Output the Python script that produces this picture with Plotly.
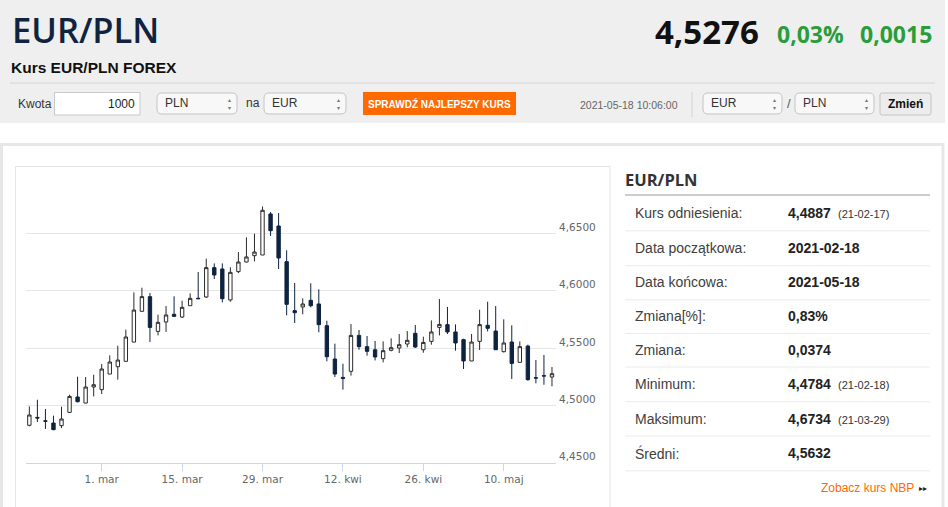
import plotly.graph_objects as go

W, H = 948, 507

# trading days shown on the chart (weekdays only)
dates = [
    "2021-02-16", "2021-02-17", "2021-02-18", "2021-02-19",
    "2021-02-22", "2021-02-23", "2021-02-24", "2021-02-25", "2021-02-26",
    "2021-03-01", "2021-03-02", "2021-03-03", "2021-03-04", "2021-03-05",
    "2021-03-08", "2021-03-09", "2021-03-10", "2021-03-11", "2021-03-12",
    "2021-03-15", "2021-03-16", "2021-03-17", "2021-03-18", "2021-03-19",
    "2021-03-22", "2021-03-23", "2021-03-24", "2021-03-25", "2021-03-26",
    "2021-03-29", "2021-03-30", "2021-03-31", "2021-04-01", "2021-04-02",
    "2021-04-05", "2021-04-06", "2021-04-07", "2021-04-08", "2021-04-09",
    "2021-04-12", "2021-04-13", "2021-04-14", "2021-04-15", "2021-04-16",
    "2021-04-19", "2021-04-20", "2021-04-21", "2021-04-22", "2021-04-23",
    "2021-04-26", "2021-04-27", "2021-04-28", "2021-04-29", "2021-04-30",
    "2021-05-03", "2021-05-04", "2021-05-05", "2021-05-06", "2021-05-07",
    "2021-05-10", "2021-05-11", "2021-05-12", "2021-05-13", "2021-05-14",
    "2021-05-17", "2021-05-18",
]
open_ = [
    4.4826, 4.4895, 4.4865, 4.4846, 4.4823, 4.4939, 4.5073, 4.5020, 4.5160,
    4.5137, 4.5273, 4.5337, 4.5384, 4.5552, 4.5820, 4.5948, 4.5645, 4.5727,
    4.5794, 4.5770, 4.5869, 4.5934, 4.5945, 4.6201, 4.6189, 4.5919, 4.6166,
    4.6250, 4.6305, 4.6311, 4.6669, 4.6564, 4.6253, 4.5826, 4.5858, 4.5916,
    4.5884, 4.5695, 4.5404, 4.5244, 4.5297, 4.5610, 4.5512, 4.5485, 4.5407,
    4.5480, 4.5500, 4.5535, 4.5628, 4.5485, 4.5558, 4.5680, 4.5704, 4.5640,
    4.5573, 4.5387, 4.5558, 4.5698, 4.5648, 4.5468, 4.5552, 4.5375, 4.5517,
    4.5241, 4.5259, 4.5247,
]
high = [
    4.4991, 4.5049, 4.4968, 4.4910, 4.4988, 4.5093, 4.5250, 4.5247, 4.5267,
    4.5360, 4.5436, 4.5520, 4.5660, 4.5985, 4.6026, 4.5980, 4.5791, 4.5866,
    4.5951, 4.5913, 4.5977, 4.6163, 4.6279, 4.6238, 4.6238, 4.6204, 4.6337,
    4.6465, 4.6497, 4.6734, 4.6686, 4.6677, 4.6352, 4.6067, 4.5933, 4.6064,
    4.6012, 4.5738, 4.5538, 4.5363, 4.5709, 4.5657, 4.5605, 4.5561, 4.5558,
    4.5584, 4.5622, 4.5648, 4.5701, 4.5599, 4.5741, 4.5927, 4.5858, 4.5706,
    4.5581, 4.5622, 4.5834, 4.5904, 4.5866, 4.5750, 4.5698, 4.5558, 4.5529,
    4.5395, 4.5439, 4.5334,
]
low = [
    4.4817, 4.4855, 4.4794, 4.4784, 4.4802, 4.4933, 4.5026, 4.5020, 4.5078,
    4.5099, 4.5273, 4.5224, 4.5384, 4.5552, 4.5820, 4.5552, 4.5610, 4.5640,
    4.5773, 4.5762, 4.5869, 4.5927, 4.5936, 4.6102, 4.5898, 4.5904, 4.6154,
    4.6247, 4.6256, 4.6311, 4.6477, 4.6189, 4.5785, 4.5718, 4.5794, 4.5855,
    4.5637, 4.5384, 4.5247, 4.5137, 4.5259, 4.5485, 4.5433, 4.5392, 4.5375,
    4.5471, 4.5456, 4.5506, 4.5500, 4.5459, 4.5529, 4.5610, 4.5622, 4.5477,
    4.5317, 4.5387, 4.5483, 4.5645, 4.5485, 4.5462, 4.5230, 4.5375, 4.5215,
    4.5192, 4.5180, 4.5166,
]
close = [
    4.4916, 4.4890, 4.4862, 4.4788, 4.4881, 4.5078, 4.5032, 4.5160, 4.5180,
    4.5317, 4.5378, 4.5395, 4.5596, 4.5831, 4.5948, 4.5680, 4.5724, 4.5788,
    4.5776, 4.5855, 4.5933, 4.5930, 4.6201, 4.6137, 4.5930, 4.6160, 4.6250,
    4.6294, 4.6337, 4.6701, 4.6523, 4.6285, 4.5881, 4.5808, 4.5884, 4.5869,
    4.5704, 4.5424, 4.5273, 4.5235, 4.5610, 4.5512, 4.5471, 4.5422, 4.5477,
    4.5503, 4.5529, 4.5567, 4.5509, 4.5549, 4.5640, 4.5706, 4.5640, 4.5544,
    4.5387, 4.5552, 4.5704, 4.5672, 4.5485, 4.5544, 4.5366, 4.5512, 4.5224,
    4.5238, 4.5256, 4.5276,
]

x_tick_vals = ["2021-03-01", "2021-03-15", "2021-03-29", "2021-04-12", "2021-04-26", "2021-05-10"]
x_tick_text = ["1. mar", "15. mar", "29. mar", "12. kwi", "26. kwi", "10. maj"]
y_tick_vals = [4.45, 4.50, 4.55, 4.60, 4.65, 4.70]
y_tick_text = ["4,4500", "4,5000", "4,5500", "4,6000", "4,6500", ""]

stats_labels = ["Kurs odniesienia:", "Data początkowa:", "Data końcowa:", "Zmiana[%]:",
                "Zmiana:", "Minimum:", "Maksimum:", "Średni:"]
stats_values = ["4,4887", "2021-02-18", "2021-05-18", "0,83%", "0,0374", "4,4784", "4,6734", "4,5632"]
stats_dates = ["(21-02-17)", "", "", "", "", "(21-02-18)", "(21-03-29)", ""]

NAVY = "#0e2340"
ARIAL = "Liberation Sans, Arial, sans-serif"
OPEN = "Open Sans, sans-serif"
ORANGE = "#ff6a00"
GREEN = "#2a9d3a"


def px(x):
    return x / W


def py(y):
    return 1 - y / H


shapes = []
annotations = []


def rect(x0, y0, x1, y1, fill, line="rgba(0,0,0,0)", width=0):
    shapes.append(dict(type="rect", xref="paper", yref="paper", layer="below",
                       x0=px(x0), x1=px(x1), y0=py(y0), y1=py(y1),
                       fillcolor=fill, line=dict(color=line, width=width)))


def rrect(x0, y0, x1, y1, r, fill, line):
    pts = (f"M{px(x0 + r)},{py(y0)} L{px(x1 - r)},{py(y0)} Q{px(x1)},{py(y0)} {px(x1)},{py(y0 + r)} "
           f"L{px(x1)},{py(y1 - r)} Q{px(x1)},{py(y1)} {px(x1 - r)},{py(y1)} "
           f"L{px(x0 + r)},{py(y1)} Q{px(x0)},{py(y1)} {px(x0)},{py(y1 - r)} "
           f"L{px(x0)},{py(y0 + r)} Q{px(x0)},{py(y0)} {px(x0 + r)},{py(y0)} Z")
    shapes.append(dict(type="path", xref="paper", yref="paper", layer="below", path=pts,
                       fillcolor=fill, line=dict(color=line, width=1)))


def hline(x0, x1, y, color, width=1):
    shapes.append(dict(type="line", xref="paper", yref="paper", layer="below",
                       x0=px(x0), x1=px(x1), y0=py(y), y1=py(y), line=dict(color=color, width=width)))


def vline(x, y0, y1, color, width=1):
    shapes.append(dict(type="line", xref="paper", yref="paper", layer="below",
                       x0=px(x), x1=px(x), y0=py(y0), y1=py(y1), line=dict(color=color, width=width)))


def text(x, y, s, size, color="#333333", anchor="left", family=ARIAL, weight="normal"):
    annotations.append(dict(x=px(x), y=py(y), xref="paper", yref="paper", text=s, showarrow=False,
                            xanchor=anchor, yanchor="middle",
                            font=dict(size=size, color=color, family=family, weight=weight)))


def select(x0, x1, label):
    rrect(x0, 93, x1, 114, 5, "#f8f8f8", "#c4c4c4")
    text(x0 + 6, 103, label, 12)
    text(x1 - 8, 103.5, "▴<br>▾", 6, "#777777", "center")


# header band
rect(0, 0, 945, 123, "#efefef")
hline(10, 935, 83, "#d6d6d6")
text(10, 29.5, "EUR/PLN", 34.5, "#10233f", family=OPEN, weight=600)
text(9, 67, "<b>Kurs EUR/PLN FOREX</b>", 15.5, "#111111")
text(761, 32, "<b>4,5276</b>", 33, "#111111", "right", family=OPEN)
text(846, 34, "<b>0,03%</b>", 23, GREEN, "right", family=OPEN)
text(934, 34, "<b>0,0015</b>", 23, GREEN, "right", family=OPEN)

# converter row
text(16, 104, "Kwota", 12)
rect(54.5, 92.5, 140, 115, "white", "#c8c8c8", 1)
text(137, 104, "1000", 12, "#222222", "right")
select(157, 237, "PLN")
text(244, 103, "na", 12)
select(264, 346, "EUR")
rect(363, 92, 516, 115, ORANGE)
text(439.5, 103.5, "<b>SPRAWDŹ NAJLEPSZY KURS</b>", 10, "white", "center")
text(680, 105, "2021-05-18 10:06:00", 10.5, "#666666", "right")
vline(692, 92, 117, "#d4d4d4")
select(703, 782, "EUR")
text(788.5, 104, "/", 13, "#555555", "center")
select(795, 874, "PLN")
rrect(880, 93, 931, 115, 2, "#ececec", "#c4c4c4")
text(905.5, 104, "<b>Zmień</b>", 12, "#111111", "center")

# page containers
rect(1.5, 144.5, 943, 530, "white", "#e7e7e7", 3)
rect(15.5, 166.5, 610, 520, "white", "#e6e6e6", 1)

# right side statistics panel
text(623, 179, "<b>EUR/PLN</b>", 16.5, "#333333", family=OPEN)
hline(625, 930, 195, "#9a9a9a")
row_y = [213.3, 248.3, 282.3, 316.0, 349.5, 384.3, 418.5, 453.3]
for i, yy in enumerate(row_y):
    text(633, yy, stats_labels[i], 14, "#404040")
    text(786, yy, "<b>" + stats_values[i] + "</b>", 14, "#222222")
    if stats_dates[i]:
        text(836, yy + 1, stats_dates[i], 11, "#333333")
    hline(625, 930, yy + 17.5, "#ececec")
text(916, 487.5, "Zobacz kurs NBP", 12, ORANGE, "right")
text(923, 488.5, "▸▸", 8, "#222222", "center")

fig = go.Figure(
    go.Candlestick(
        x=dates, open=open_, high=high, low=low, close=close,
        increasing=dict(fillcolor="white", line=dict(color="#2a2a2a", width=1)),
        decreasing=dict(fillcolor=NAVY, line=dict(color=NAVY, width=1)),
        whiskerwidth=0,
        showlegend=False,
    )
)

fig.update_layout(
    width=W,
    height=H,
    margin=dict(l=0, r=0, t=0, b=0),
    paper_bgcolor="white",
    plot_bgcolor="rgba(0,0,0,0)",
    boxgap=0.4,
    shapes=shapes,
    annotations=annotations,
    hovermode=False,
    font=dict(family=ARIAL, color="#333333"),
)
fig.update_xaxes(
    domain=[px(26), px(556)],
    range=["2021-02-15 14:00", "2021-05-18 12:00"],
    rangebreaks=[dict(bounds=["sat", "mon"])],
    rangeslider=dict(visible=False),
    tickmode="array",
    tickvals=x_tick_vals,
    ticktext=x_tick_text,
    tickfont=dict(family="DejaVu Sans, Verdana, sans-serif", size=10.5, color="#666666"),
    showgrid=False,
    showline=True,
    linecolor="#ccd6eb",
    linewidth=1,
    ticks="outside",
    ticklen=7,
    tickcolor="#ccd6eb",
    zeroline=False,
)
fig.update_yaxes(
    domain=[py(462.7), py(176)],
    range=[4.45, 4.70],
    side="right",
    tickmode="array",
    tickvals=y_tick_vals,
    ticktext=y_tick_text,
    tickfont=dict(family="DejaVu Sans, Verdana, sans-serif", size=10.5, color="#666666"),
    showgrid=True,
    gridcolor="#e6e6e6",
    gridwidth=1,
    showline=False,
    zeroline=False,
    ticks="",
    ticklabelstandoff=2,
    ticklabelshift=-6,
)

fig.write_html(
    "out.html",
    config=dict(displayModeBar=False),
    post_script="document.body.style.margin='0';document.body.style.overflow='hidden';"
                "document.documentElement.style.overflow='hidden';",
)
